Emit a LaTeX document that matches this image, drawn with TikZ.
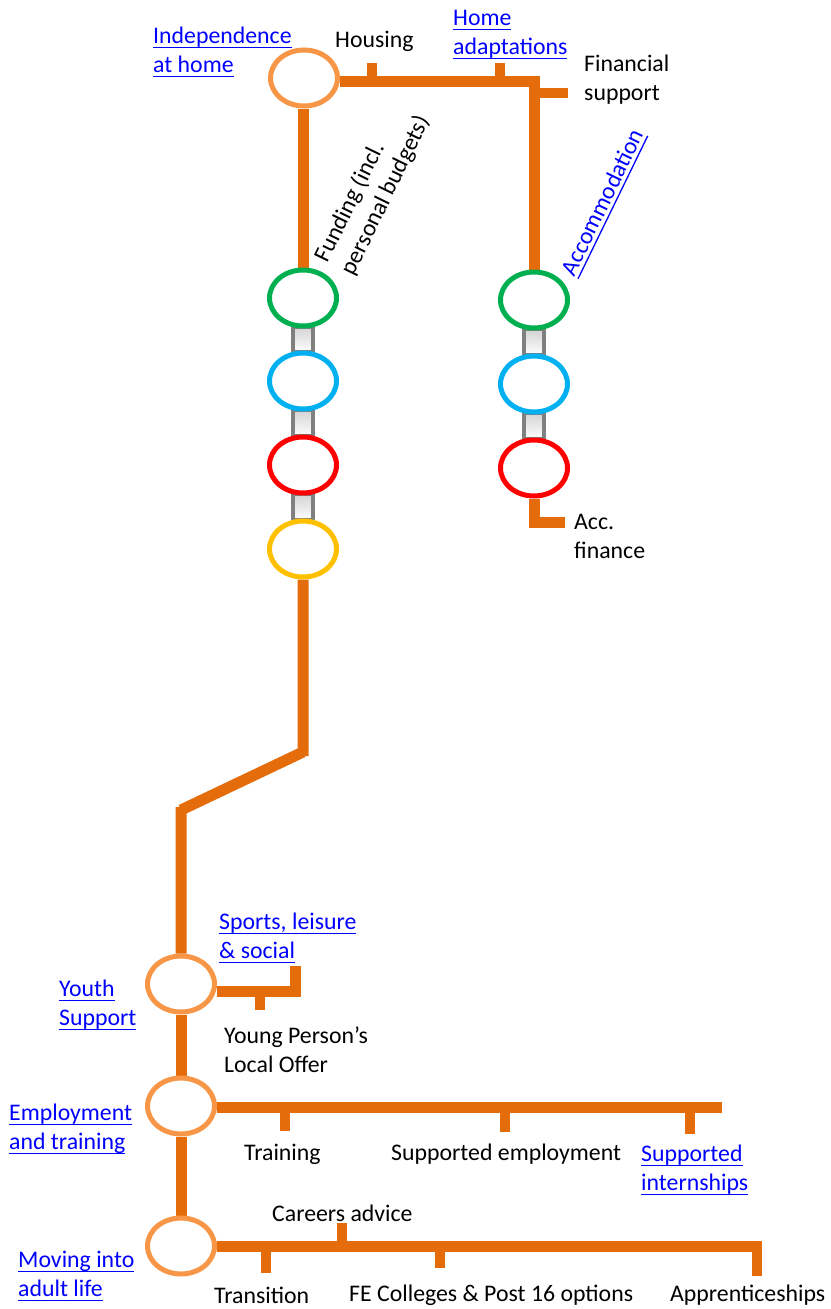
\documentclass[tikz,border=0pt]{standalone}
\usepackage{fontspec}
\setmainfont{Carlito}
\usetikzlibrary{shapes.geometric,backgrounds,calc}
\definecolor{lineor}{HTML}{E46C0A}
\definecolor{ringor}{HTML}{F79646}
\definecolor{rgreen}{HTML}{00B050}
\definecolor{rblue}{HTML}{00B0F0}
\definecolor{rred}{HTML}{FF0000}
\definecolor{ryellow}{HTML}{FFC000}
\definecolor{linkblue}{HTML}{0000FF}
\newcommand\mylink[1]{\setbox0\hbox{#1}\rlap{\rule[-4.5pt]{\wd0}{1.3pt}}\box0}
\begin{document}
\begin{tikzpicture}[x=1pt,y=-1pt,
  ring/.style={ellipse, draw, line width=5pt, minimum width=67pt, minimum height=56pt, inner sep=0pt, fill=white},
  route/.style={draw=lineor, line width=11pt, line join=miter},
  tick/.style={draw=lineor, line width=10.5pt},
  lbl/.style={anchor=west, align=left, inner sep=0pt, font=\fontsize{23.8}{29}\selectfont},
  lnk/.style={lbl, text=linkblue},
  joint/.style={draw=gray, line width=4.5pt, top color=gray!35, bottom color=white}]
\useasboundingbox (0,0) rectangle (830,1309);
% rings
\node[ring, draw=ringor] (home) at (304,78) {};
\node[ring, draw=rgreen] (g1) at (303,298) {};
\node[ring, draw=rblue] (b1) at (303,381) {};
\node[ring, draw=rred] (r1) at (303,465) {};
\node[ring, draw=ryellow] (y1) at (303,549) {};
\node[ring, draw=rgreen] (g2) at (534,300) {};
\node[ring, draw=rblue] (b2) at (534,384) {};
\node[ring, draw=rred] (r2) at (534,468) {};
\node[ring, draw=ringor] (youth) at (181,984) {};
\node[ring, draw=ringor] (emp) at (181,1106) {};
\node[ring, draw=ringor] (adult) at (181,1246) {};
% coordinates
\coordinate (bendA) at (303,752);
\coordinate (bendB) at (181,810);
\coordinate (housingT) at (372,63);
\coordinate (adaptT) at (500,63);
\coordinate (finT) at (568,93);
\coordinate (accT) at (565,522);
\coordinate (sportT) at (295,966);
\coordinate (ypT) at (260,1010);
\coordinate (empEnd) at (722,1107);
\coordinate (trainT) at (285,1131);
\coordinate (suppT) at (505,1132);
\coordinate (internT) at (690,1134);
\coordinate (adultEnd) at (757,1246);
\coordinate (apprT) at (757,1276);
\coordinate (careerT) at (342,1223);
\coordinate (transT) at (266,1273);
\coordinate (feT) at (440,1268);
\begin{scope}[on background layer]
  % gray joints
  \foreach \a/\b in {g1/b1,b1/r1,r1/y1,g2/b2,b2/r2}{
    \shade[joint] ($(\a.south)+(-10,-2)$) rectangle ($(\b.north)+(10,2)$);
  }
  % top route
  \draw[route] ($(home.east)+(0,3)$) -| (g2.north);
  \draw[tick] (housingT) -- (housingT |- home.east);
  \draw[tick] (adaptT) -- (adaptT |- home.east);
  \draw[tick] (finT) -- (finT -| g2.north);
  \draw[route] (home.south -| g1.north) -- (g1.north);
  \draw[route] (r2.south) |- (accT);
  \draw[route, line join=bevel] (y1.south) -- ($(bendA)+(0,4)$) -- (bendA) -- (bendB) -- ($(bendB)+(0,-3)$) -- (youth.north);
  % youth
  \draw[route] ($(youth.east)+(0,7)$) -| (sportT);
  \draw[tick] (ypT) -- (ypT |- 0,991);
  \draw[route] (youth.south) -- (emp.north);
  \draw[route] (emp.south) -- (adult.north);
  % employment
  \draw[route] (emp.east |- empEnd) -- (empEnd);
  \draw[tick] (trainT) -- (trainT |- empEnd);
  \draw[tick] (suppT) -- (suppT |- empEnd);
  \draw[tick] (internT) -- (internT |- empEnd);
  % adult
  \draw[route] (adult.east |- adultEnd) -- ($(adultEnd)+(4,0)$);
  \draw[tick] (apprT) -- ($(adultEnd)+(0,-5)$);
  \draw[tick] (careerT) -- (careerT |- adultEnd);
  \draw[tick] (transT) -- (transT |- adultEnd);
  \draw[tick] (feT) -- (feT |- adultEnd);
\end{scope}
% labels
\node[lnk] (lIndep) at (153,52) {\mylink{Independence}\\\mylink{at home}};
\node[lbl] (lHousing) at (335,41) {Housing};
\node[lnk] (lAdapt) at (453,35) {\mylink{Home}\\\mylink{adaptations}};
\node[lbl] (lFin) at (584,80) {Financial\\support};
\node[lbl, anchor=center, rotate=64] (lFund) at (373,189) {Funding (incl.\\personal budgets)};
\node[lnk, anchor=center, rotate=64] (lAcc) at (604,203) {\mylink{Accommodation}};
\node[lbl] (lAccFin) at (574,536) {Acc.\\finance};
\node[lnk] (lSport) at (219,938) {\mylink{Sports, leisure}\\\mylink{\& social}};
\node[lnk] (lYouth) at (59,1005) {\mylink{Youth}\\\mylink{Support}};
\node[lbl] (lYP) at (224,1050) {Young Person’s\\Local Offer};
\node[lnk] (lEmp) at (9,1129) {\mylink{Employment}\\\mylink{and training}};
\node[lbl] (lTrain) at (244,1154) {Training};
\node[lbl] (lSupp) at (391,1154) {Supported employment};
\node[lnk] (lIntern) at (641,1170) {\mylink{Supported}\\\mylink{internships}};
\node[lbl] (lCareer) at (272,1213) {Careers advice};
\node[lnk] (lAdult) at (18,1276) {\mylink{Moving into}\\\mylink{adult life}};
\node[lbl] (lTrans) at (214,1295) {Transition};
\node[lbl] (lFE) at (349,1295) {FE Colleges \& Post 16 options};
\node[lbl] (lAppr) at (670,1295) {Apprenticeships};
\end{tikzpicture}
\end{document}
